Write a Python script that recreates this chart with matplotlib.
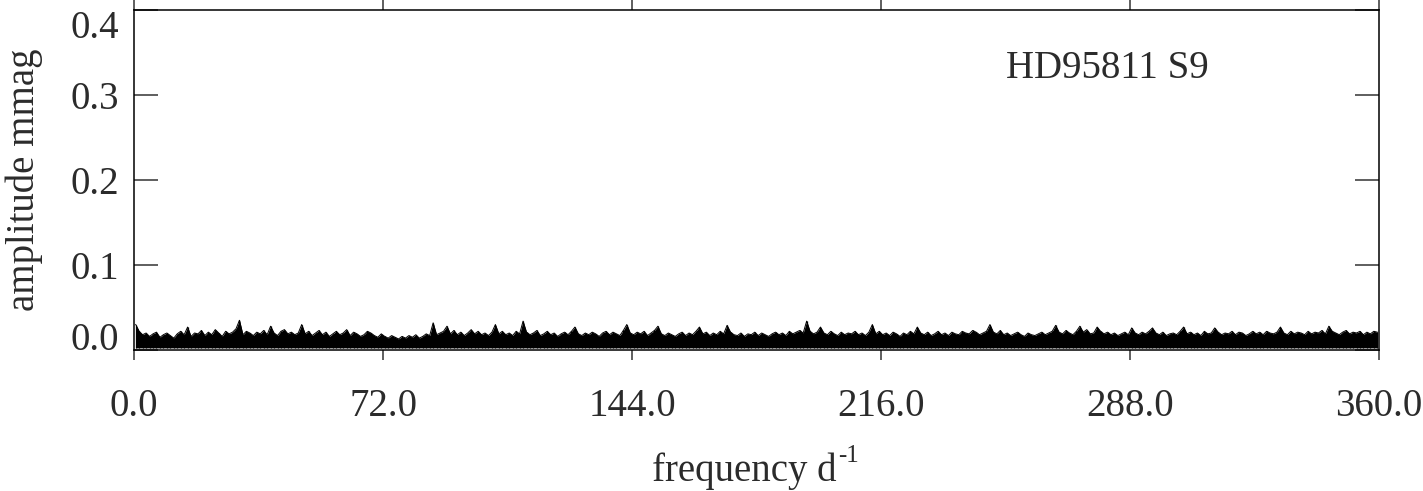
import numpy as np
import matplotlib
matplotlib.use("Agg")
import matplotlib.pyplot as plt

plt.rcParams['font.family'] = ['Liberation Serif', 'DejaVu Serif']

# amplitude spectrum, one value per 1 d^-1 bin, in units of 0.001 mmag
amp_umag = [
    30, 22, 18, 20, 16, 19, 21, 15, 18, 20, 17, 14, 19, 22, 18, 27, 16, 20, 19, 23, 17, 21, 18, 24, 20, 16, 22, 19, 21, 25, 35, 18, 22, 20, 17, 21,
    19, 23, 18, 28, 20, 17, 22, 24, 19, 21, 18, 20, 30, 19, 22, 17, 20, 23, 18, 21, 16, 19, 22, 18, 20, 24, 17, 21, 19, 16, 18, 22, 20, 17, 15, 19,
    16, 14, 17, 15, 13, 16, 14, 17, 15, 18, 14, 16, 19, 17, 32, 18, 20, 22, 28, 19, 23, 18, 21, 17, 20, 24, 19, 22, 18, 20, 17, 21, 30, 19, 22, 18,
    20, 17, 22, 19, 34, 21, 18, 20, 23, 17, 19, 22, 18, 20, 16, 19, 21, 18, 22, 27, 19, 17, 20, 18, 21, 19, 16, 20, 22, 18, 21, 19, 17, 23, 30, 20,
    18, 21, 19, 22, 17, 20, 23, 28, 19, 17, 20, 18, 16, 19, 21, 17, 20, 18, 22, 27, 19, 21, 17, 20, 18, 22, 19, 29, 21, 18, 17, 20, 16, 19, 18, 21,
    17, 20, 18, 16, 19, 21, 18, 20, 17, 22, 19, 21, 23, 20, 34, 22, 19, 21, 27, 20, 18, 22, 19, 17, 21, 18, 20, 19, 22, 18, 20, 17, 21, 30, 19, 22,
    18, 20, 17, 21, 19, 16, 20, 18, 22, 19, 27, 20, 18, 21, 17, 19, 22, 18, 20, 17, 21, 19, 18, 22, 20, 19, 23, 21, 18, 20, 22, 30, 21, 19, 23, 18,
    20, 17, 19, 21, 18, 16, 20, 18, 17, 19, 21, 18, 20, 22, 29, 21, 19, 23, 20, 18, 22, 28, 21, 24, 19, 20, 27, 22, 19, 21, 18, 20, 17, 19, 21, 18,
    26, 20, 18, 21, 19, 22, 26, 20, 18, 21, 17, 19, 20, 18, 22, 27, 19, 21, 18, 20, 17, 22, 19, 20, 26, 21, 18, 20, 19, 22, 18, 21, 20, 17, 19, 22,
    19, 21, 18, 22, 20, 19, 21, 27, 20, 18, 22, 19, 21, 20, 18, 22, 19, 21, 20, 23, 19, 28, 22, 20, 18, 21, 23, 19, 21, 20, 22, 18, 21, 19, 22, 21,
]
noise_floor = 0.0025  # lowest level of the band, mmag

xticks = [0.0, 72.0, 144.0, 216.0, 288.0, 360.0]
yticks = [0.0, 0.1, 0.2, 0.3, 0.4]
label = "HD95811 S9"

amp = np.asarray(amp_umag) / 1000.0
freq = np.arange(len(amp)) + 0.5

fig = plt.figure(figsize=(14.23, 4.91), dpi=100)
ax = fig.add_axes([134 / 1423, 1 - 350 / 491, 1245 / 1423, 340 / 491])

ax.fill_between(freq, noise_floor, amp, color='black', lw=0)
ax.plot(freq, amp, color='black', lw=0.7)
ax.vlines(freq, noise_floor, amp, color='black', lw=0.9)

ax.set_xlim(0, 360)
ax.set_ylim(0, 0.4)
ax.set_xticks(xticks)
ax.set_xticklabels(["%.1f" % v for v in xticks])
ax.set_yticks(yticks)
ax.set_yticklabels(["%.1f" % v for v in yticks])

for s in ax.spines.values():
    s.set_linewidth(1.1)

txtcol = '#2b2b2b'
ax.tick_params(axis='x', which='both', direction='out', length=7.2, width=1.1,
               top=True, bottom=True, labelsize=28, pad=20, labelcolor=txtcol,
               color='#333333')
ax.tick_params(axis='y', which='both', direction='in', length=17, width=1.1,
               left=True, right=True, labelsize=28, pad=11, labelcolor=txtcol,
               color='#333333')

ylabs = ax.get_yticklabels()
ylabs[0].set_va('baseline')
ylabs[-1].set_va('top')

ax.text(252, 0.32, label, fontsize=28, color=txtcol, va='baseline', ha='left')

# x label with a plain hyphen superscript
fig.text(836 / 1423, 1 - 481 / 491, "frequency d", fontsize=28,
         color=txtcol, ha='right', va='baseline')
fig.text(838 / 1423, 1 - 462 / 491, "-1", fontsize=18,
         color=txtcol, ha='left', va='baseline')
fig.text(24 / 1423, 1 - 180 / 491, "amplitude mmag", fontsize=28,
         color=txtcol, ha='center', va='center', rotation=90)

fig.savefig("out.png", dpi=100)
